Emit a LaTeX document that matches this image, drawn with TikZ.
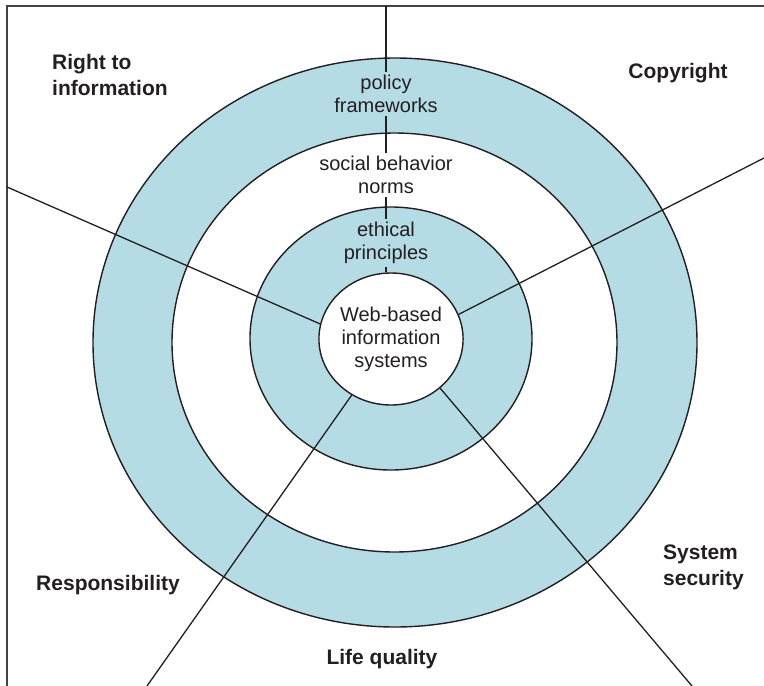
\documentclass[tikz,border=0pt]{standalone}
\usepackage{fontspec}
\setmainfont{Liberation Sans}
\usetikzlibrary{shapes.geometric}
\definecolor{ringblue}{RGB}{181,219,229}
\definecolor{inkgray}{RGB}{35,31,32}
\tikzset{
  ring/.style={draw=inkgray, line width=1.4pt},
  spoke/.style={draw=inkgray, line width=1.3pt},
  layertext/.style={text=inkgray, align=center, inner sep=3pt, font=\fontsize{20}{23}\selectfont},
  areatext/.style={text=inkgray, inner sep=0pt, font=\bfseries\fontsize{21}{26}\selectfont},
}
\begin{document}
\begin{tikzpicture}[x=1pt, y=-1pt]
  \useasboundingbox (0,0) rectangle (764,686);
  % 1. Rahmen (oben und links)
  \draw[line width=1.8pt, inkgray!85] (764,6) -- (7,6) -- (7,686);

  % 2. Ringe von aussen nach innen
  \filldraw[ring, fill=ringblue] (395,342.5) ellipse [x radius=302, y radius=284.5];
  \filldraw[ring, fill=white] (394.5,342.5) ellipse [x radius=222.5, y radius=209.5];
  \filldraw[ring, fill=ringblue] (391,338.5) ellipse [x radius=141, y radius=131.5];
  \node[ellipse, ring, fill=white, layertext, inner sep=0pt, minimum width=143pt, minimum height=132pt] (web) at (391,339) {Web-based\\information\\systems};

  % 3. Schichtbeschriftungen
  \node[layertext] (policy) at (386,94) {policy\\frameworks};
  \node[layertext] (social) at (386,175) {social behavior\\norms};
  \node[layertext] (ethical) at (386,243) {ethical\\principles};

  % 4. Endpunkte am Rand
  \coordinate (topend) at (386,6);
  \coordinate (leftend) at (7,187);
  \coordinate (rightend) at (764,158);
  \coordinate (lowleftend) at (147,686);
  \coordinate (lowrightend) at (692,686);

  % 5. Trennlinien
  \draw[spoke] (topend) -- (policy.north);
  \draw[spoke] (policy.south) -- (social.north);
  \draw[spoke] (social.south) -- (ethical.north);
  \draw[spoke] (ethical.south) -- (ethical.south |- web.north);
  \draw[spoke] (web.168) -- (leftend);
  \draw[spoke] (web.20) -- (rightend);
  \draw[spoke] (web.235) -- (lowleftend);
  \draw[spoke] (web.315) -- (lowrightend);

  % 6. Bereiche
  \node[areatext, anchor=west, align=left] (rightinfo) at (52,75) {Right to\\information};
  \node[areatext] (copyright) at (678,73) {Copyright};
  \node[areatext, anchor=west, align=left] (syssec) at (663,567) {System\\security};
  \node[areatext] (respons) at (108,585) {Responsibility};
  \node[areatext] (lifequal) at (382,659) {Life quality};
\end{tikzpicture}
\end{document}
